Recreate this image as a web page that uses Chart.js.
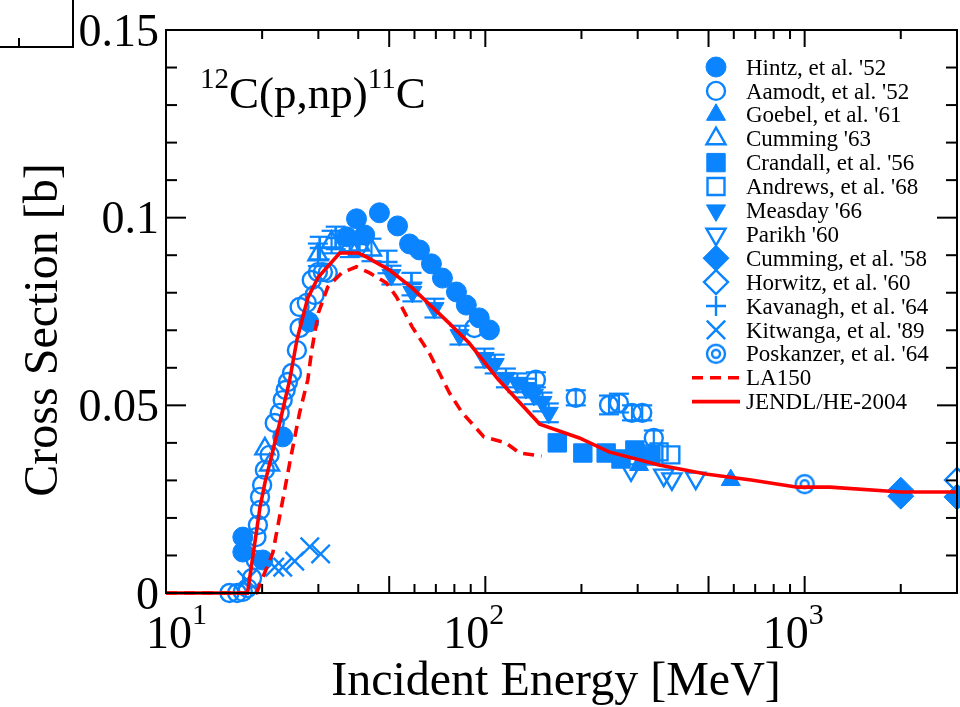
<!DOCTYPE html>
<html>
<head>
<meta charset="utf-8">
<script src="https://cdn.jsdelivr.net/npm/chart.js@4.4.1/dist/chart.umd.min.js"></script>
<style>
  html, body { margin: 0; padding: 0; background: #fff; }
  #wrap { width: 960px; height: 707px; }
</style>
</head>
<body>
<div id="wrap"><canvas id="c" width="960" height="707"></canvas></div>
<script>
// ---------- DATA ----------
const xTickExp = [1, 2, 3];
const yTickValues = [0, 0.05, 0.1, 0.15];
const yTickLabels = ["0", "0.05", "0.1", "0.15"];

const jendlE = [10, 18, 19.7, 20.4, 22.7, 24.4, 25.7, 27.8, 30, 35, 40, 42.5, 50, 59, 77, 89, 110, 148, 197, 244, 350, 490, 680, 950, 1200, 2000, 3000];
const jendlXS = [0, 0, 0.0229, 0.0293, 0.0453, 0.0568, 0.0674, 0.0786, 0.0842, 0.0906, 0.0906, 0.0895, 0.0861, 0.0813, 0.0719, 0.0666, 0.0568, 0.045, 0.0413, 0.0376, 0.0341, 0.0317, 0.0301, 0.0282, 0.0282, 0.0269, 0.0269];

const la150E = [10, 19.2, 21.6, 24.4, 26.2, 27.8, 28.6, 30, 32.1, 35.5, 39.5, 43.4, 49, 52.7, 59, 66.8, 77.2, 84.7, 99, 116, 128, 150];
const la150XS = [0, 0, 0.0107, 0.0346, 0.048, 0.0568, 0.0647, 0.0746, 0.0815, 0.0853, 0.0869, 0.0853, 0.0826, 0.0789, 0.0709, 0.0639, 0.0533, 0.048, 0.0416, 0.040, 0.0373, 0.0365];

const hintzE = [17.4, 17.4, 20.1, 23.2, 28.0, 36.8, 39.5, 41.9, 46.6, 53.1, 57.9, 62.2, 67.8, 73.4, 81.2, 87.2, 95.7, 103];
const hintzXS = [0.0149, 0.0109, 0.0088, 0.0416, 0.0722, 0.0949, 0.0997, 0.0954, 0.1013, 0.0978, 0.093, 0.0914, 0.0877, 0.0839, 0.0802, 0.0767, 0.0733, 0.0701];

const aamodtE = [15.8, 16.7, 17.4, 18.0, 18.6, 19.1, 19.2, 19.4, 19.7, 19.7, 20.0, 20.4, 21.1, 21.9, 22.7, 23.2, 23.7, 24.1, 24.8, 25.7, 26.2, 26.2, 27.6, 28.6, 29.2, 29.9, 31.0, 32.1, 92.4, 144, 192, 244, 262, 288, 310, 337];
const aamodtXS = [0, 0, 0.0003, 0.0013, 0.004, 0.0088, 0.0149, 0.0181, 0.0221, 0.0256, 0.0288, 0.0328, 0.0368, 0.0453, 0.048, 0.0514, 0.0541, 0.0562, 0.0586, 0.0647, 0.0706, 0.0762, 0.0773, 0.0834, 0.0794, 0.0855, 0.0855, 0.0853, 0.0706, 0.0568, 0.052, 0.0501, 0.0506, 0.048, 0.048, 0.0413];
const aamodtErr = [0, 0, 0, 0, 0, 0, 0, 0, 0, 0, 0, 0, 0, 0, 0, 0, 0, 0, 0, 0, 0, 0, 0, 0, 0, 0, 0, 0, 0, 0.002, 0.002, 0.0025, 0.0025, 0.002, 0.002, 0.002];

const goebelE = [303, 587];
const goebelXS = [0.0341, 0.0301];

const cumming63E = [20.4, 21.1, 29.9, 33.0, 37.6, 40.4, 44.0];
const cumming63XS = [0.0384, 0.0341, 0.0901, 0.0935, 0.0925, 0.0927, 0.0914];
const cumming63Err = [0, 0, 0.003, 0.003, 0.003, 0.003, 0.003];

const crandallE = [168, 202, 239, 266, 294, 330];
const crandallXS = [0.040, 0.0373, 0.0373, 0.0357, 0.0381, 0.0365];

const andrewsE = [350, 381];
const andrewsXS = [0.0376, 0.0368];

const measdayE = [50.8, 59.1, 69.3, 83.0, 99.4, 107, 116, 126, 134, 142, 151, 158];
const measdayXS = [0.0847, 0.0802, 0.0759, 0.0687, 0.0626, 0.061, 0.0573, 0.056, 0.0546, 0.0528, 0.0509, 0.048];
const measdayErr = [0.0025, 0.0025, 0.0025, 0.0025, 0.0025, 0.0025, 0.0025, 0.0025, 0.0025, 0.0025, 0.0025, 0.0025];

const parikhE = [286, 362, 384, 456];
const parikhXS = [0.0328, 0.0314, 0.0304, 0.0306];

const cumming58E = [2000, 2000, 3000];
const cumming58XS = [0.0274, 0.0258, 0.0256];

const horwitzE = [3000];
const horwitzXS = [0.0301];

const kavanaghE = [30.3, 34.0, 39.8, 49.4, 58.7];
const kavanaghXS = [0.0919, 0.0946, 0.093, 0.0882, 0.0823];
const kavanaghErr = [0.003, 0.003, 0.003, 0.003, 0.003];

const kitwangaE = [17.9, 21.9, 23.2, 25.3, 28.2, 30.5];
const kitwangaXS = [0.0035, 0.0069, 0.0069, 0.0085, 0.0123, 0.0104];

const poskanzerE = [1000];
const poskanzerXS = [0.029];

// ---------- STYLE ----------
const BLUE = "#0a84ff";
const RED = "#ff0000";
const SERIF = "'Liberation Serif', 'Times New Roman', serif";
const NONE = "rgba(0,0,0,0)";

function pts(E, XS) {
  return E.map((e, i) => ({ x: e, y: XS[i] }));
}

// double circle marker
const dblCircle = document.createElement("canvas");
dblCircle.width = 24;
dblCircle.height = 24;
(function () {
  const g = dblCircle.getContext("2d");
  g.strokeStyle = BLUE;
  g.lineWidth = 2.4;
  g.beginPath(); g.arc(12, 12, 9, 0, Math.PI * 2); g.stroke();
  g.beginPath(); g.arc(12, 12, 4, 0, Math.PI * 2); g.stroke();
})();

const series = [
  { label: "Hintz, et al. '52", E: hintzE, XS: hintzXS, style: "circle", fill: true, r: 10 },
  { label: "Aamodt, et al. '52", E: aamodtE, XS: aamodtXS, err: aamodtErr, style: "circle", fill: false, r: 9 },
  { label: "Goebel, et al. '61", E: goebelE, XS: goebelXS, style: "triangle", fill: true, r: 11 },
  { label: "Cumming '63", E: cumming63E, XS: cumming63XS, err: cumming63Err, style: "triangle", fill: false, r: 11 },
  { label: "Crandall, et al. '56", E: crandallE, XS: crandallXS, style: "rect", fill: true, r: 13 },
  { label: "Andrews, et al. '68", E: andrewsE, XS: andrewsXS, style: "rect", fill: false, r: 12 },
  { label: "Measday '66", E: measdayE, XS: measdayXS, err: measdayErr, style: "triangle", rot: 180, fill: true, r: 11 },
  { label: "Parikh '60", E: parikhE, XS: parikhXS, style: "triangle", rot: 180, fill: false, r: 11 },
  { label: "Cumming, et al. '58", E: cumming58E, XS: cumming58XS, style: "rectRot", fill: true, r: 13 },
  { label: "Horwitz, et al. '60", E: horwitzE, XS: horwitzXS, style: "rectRot", fill: false, r: 12 },
  { label: "Kavanagh, et al. '64", E: kavanaghE, XS: kavanaghXS, err: kavanaghErr, style: "cross", fill: false, r: 10 },
  { label: "Kitwanga, et al. '89", E: kitwangaE, XS: kitwangaXS, style: "crossRot", fill: false, r: 13 },
  { label: "Poskanzer, et al. '64", E: poskanzerE, XS: poskanzerXS, style: dblCircle, fill: false, r: 10 },
];

const lineSeries = [
  { label: "LA150", E: la150E, XS: la150XS, dash: [11, 7] },
  { label: "JENDL/HE-2004", E: jendlE, XS: jendlXS, dash: [] },
];

const datasets = [];
lineSeries.forEach((s) => {
  datasets.push({
    label: s.label,
    data: pts(s.E, s.XS),
    showLine: true,
    borderColor: RED,
    borderWidth: 3.6,
    borderDash: s.dash,
    pointRadius: 0,
    tension: 0,
    clip: false,
  });
});
series.forEach((s) => {
  datasets.push({
    label: s.label,
    data: pts(s.E, s.XS),
    showLine: false,
    pointStyle: s.style,
    pointRotation: s.rot || 0,
    pointRadius: s.r,
    pointHoverRadius: s.r,
    pointBackgroundColor: s.fill ? BLUE : NONE,
    pointBorderColor: BLUE,
    pointBorderWidth: s.fill ? 1 : 2.4,
    clip: false,
  });
});

// ---------- HELPERS ----------
function drawRich(ctx, parts, x, baseY, size, supSize, rise) {
  let cx = x;
  parts.forEach(([t, sup]) => {
    ctx.font = (sup ? supSize : size) + "px " + SERIF;
    ctx.fillText(t, cx, sup ? baseY - rise : baseY);
    cx += ctx.measureText(t).width;
  });
  return cx;
}

function line(ctx, x1, y1, x2, y2) {
  ctx.beginPath();
  ctx.moveTo(x1, y1);
  ctx.lineTo(x2, y2);
  ctx.stroke();
}

const decor = {
  id: "decor",
  beforeDatasetsDraw(chart) {
    const ctx = chart.ctx;
    const xs = chart.scales.x, ys = chart.scales.y;
    ctx.save();
    ctx.strokeStyle = BLUE;
    ctx.lineWidth = 2.2;
    series.forEach((s) => {
      if (!s.err) return;
      s.E.forEach((e, i) => {
        const d = s.err[i];
        if (!d) return;
        const px = xs.getPixelForValue(e);
        const y1 = ys.getPixelForValue(s.XS[i] + d);
        const y2 = ys.getPixelForValue(s.XS[i] - d);
        line(ctx, px, y1, px, y2);
        line(ctx, px - 10, y1, px + 10, y1);
        line(ctx, px - 10, y2, px + 10, y2);
      });
    });
    ctx.restore();
  },
  afterDatasetsDraw(chart) {
    const ctx = chart.ctx;
    const a = chart.chartArea;
    const xs = chart.scales.x, ys = chart.scales.y;
    ctx.save();
    ctx.strokeStyle = "#000";
    ctx.fillStyle = "#000";
    ctx.lineWidth = 2;

    // frame
    ctx.strokeRect(a.left, a.top, a.right - a.left, a.bottom - a.top);

    // x ticks (inward, top and bottom)
    for (let d = 1; d <= 3; d++) {
      for (let m = 1; m <= 9; m++) {
        const v = m * Math.pow(10, d);
        if (v > 3000) break;
        const px = xs.getPixelForValue(v);
        const len = (m === 1 || m === 5) ? 17 : 9;
        line(ctx, px, a.bottom, px, a.bottom - len);
        line(ctx, px, a.top, px, a.top + len);
      }
    }
    // y ticks
    for (let k = 0; k <= 15; k++) {
      const py = ys.getPixelForValue(k / 100);
      const len = k % 5 === 0 ? 20 : 11;
      line(ctx, a.left, py, a.left + len, py);
      line(ctx, a.right, py, a.right - len, py);
    }

    // y tick labels
    ctx.font = "46px " + SERIF;
    ctx.textAlign = "right";
    ctx.textBaseline = "alphabetic";
    yTickValues.forEach((v, i) => {
      const py = ys.getPixelForValue(v);
      ctx.fillText(yTickLabels[i], 159, py + 15.5);
    });

    // x tick labels 10^n
    ctx.textAlign = "left";
    xTickExp.forEach((n) => {
      const px = xs.getPixelForValue(Math.pow(10, n));
      const left = Math.max(px - 42, 146);
      drawRich(ctx, [["10", 0], [String(n), 1]], left, 648, 46, 30, 24);
    });

    // axis titles
    ctx.font = "48px " + SERIF;
    ctx.textAlign = "center";
    ctx.fillText("Incident Energy [MeV]", 556, 695);
    ctx.save();
    ctx.translate(57, 330);
    ctx.rotate(-Math.PI / 2);
    ctx.fillText("Cross Section [b]", 0, 0);
    ctx.restore();

    // reaction label
    ctx.textAlign = "left";
    drawRich(ctx, [["12", 1], ["C(p,np)", 0], ["11", 1], ["C", 0]], 200, 108, 45, 29, 20);

    // legend
    const lx = 716, tx = 746;
    let ly = 67;
    const step = 23.9;
    series.forEach((s) => {
      ctx.fillStyle = s.fill ? BLUE : NONE;
      ctx.strokeStyle = BLUE;
      ctx.lineWidth = s.fill ? 1 : 2.4;
      Chart.helpers.drawPoint(ctx, {
        pointStyle: s.style,
        radius: s.r,
        rotation: s.rot || 0,
        borderWidth: s.fill ? 1 : 2.4,
      }, lx, ly);
      ctx.fillStyle = "#000";
      ctx.font = "23px " + SERIF;
      ctx.fillText(s.label, tx, ly + 7.6);
      ly += step;
    });
    lineSeries.forEach((s) => {
      ctx.strokeStyle = RED;
      ctx.lineWidth = 3.6;
      ctx.setLineDash(s.dash);
      line(ctx, 692, ly, 740, ly);
      ctx.setLineDash([]);
      ctx.fillStyle = "#000";
      ctx.font = "23px " + SERIF;
      ctx.fillText(s.label, tx, ly + 7.6);
      ly += step;
    });

    // fragment of neighbouring frame, top-left corner
    ctx.strokeStyle = "#000";
    ctx.lineWidth = 2;
    line(ctx, 0, 47, 74, 47);
    line(ctx, 73, 0, 73, 47);
    line(ctx, 19, 38, 19, 47);
    ctx.restore();
  },
};

new Chart(document.getElementById("c").getContext("2d"), {
  type: "scatter",
  data: { datasets },
  options: {
    responsive: false,
    animation: false,
    events: [],
    layout: { autoPadding: false, padding: { left: 166, top: 30, right: 3, bottom: 114 } },
    plugins: { legend: { display: false }, tooltip: { enabled: false } },
    scales: {
      x: { type: "logarithmic", min: 10, max: 3000, display: false },
      y: { type: "linear", min: 0, max: 0.15, display: false },
    },
  },
  plugins: [decor],
});
</script>
</body>
</html>
